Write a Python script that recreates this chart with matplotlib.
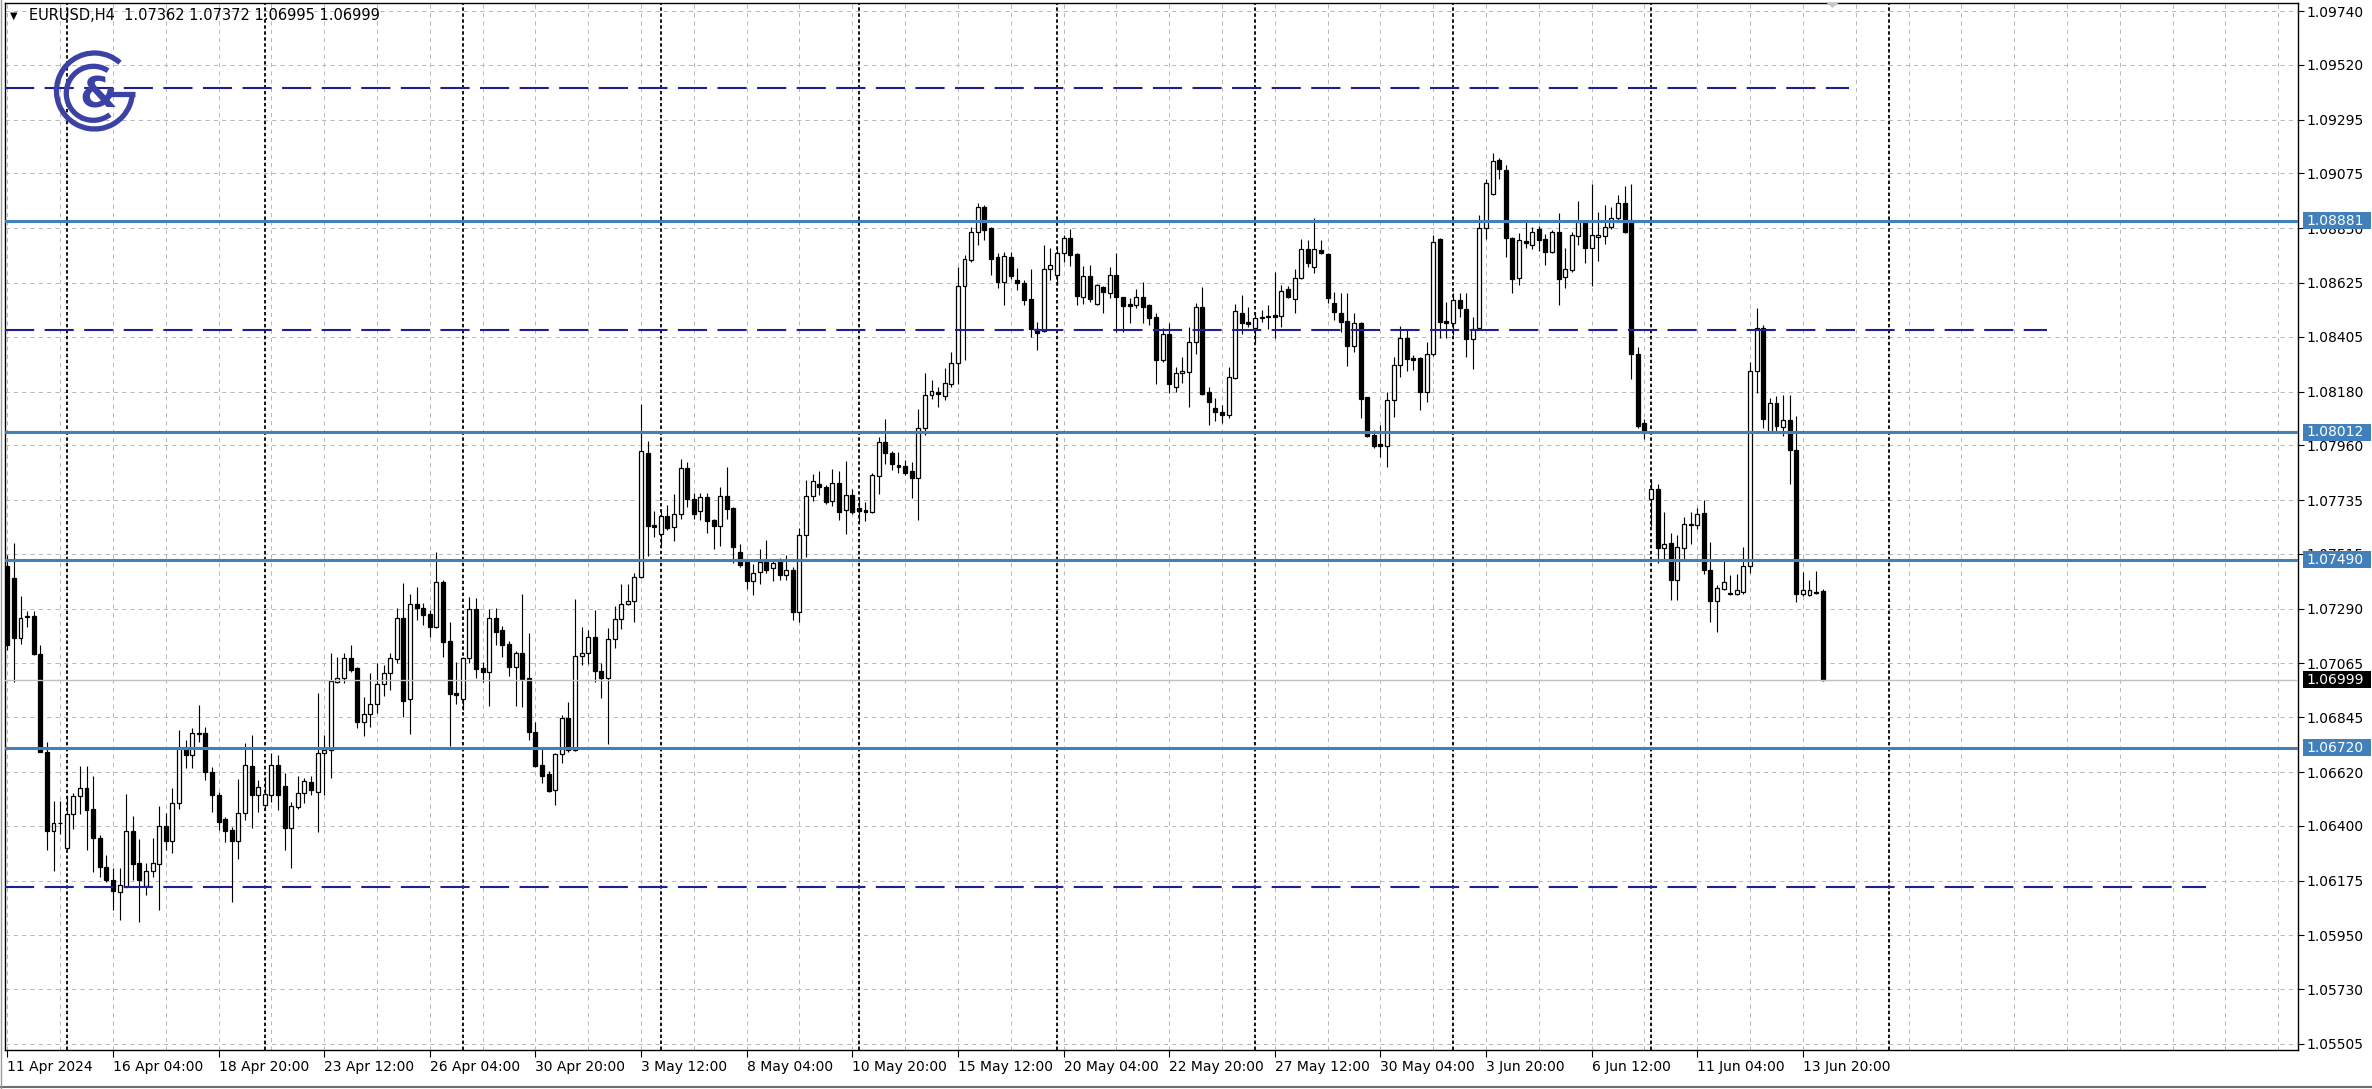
import matplotlib
matplotlib.use("Agg")
import matplotlib.pyplot as plt
from matplotlib.patches import Rectangle, Arc, Polygon
from matplotlib.lines import Line2D
from matplotlib.transforms import blended_transform_factory

plt.rcParams['font.family'] = ['DejaVu Sans']
plt.rcParams['lines.scale_dashes'] = False

# ---------------- data (EURUSD H4, bar index 0 = 11 Apr 2024 12:00) ----------------
opens = [
    1.07465, 1.07414, 1.07168, 1.07257, 1.07260, 1.07104, 1.06703, 1.06378, 1.06413, 1.06307,
    1.06446, 1.06521, 1.06555, 1.06467, 1.06351, 1.06229, 1.06177, 1.06127, 1.06150, 1.06379,
    1.06245, 1.06152, 1.06215, 1.06241, 1.06398, 1.06338, 1.06494, 1.06720, 1.06690, 1.06778,
    1.06778, 1.06621, 1.06525, 1.06426, 1.06382, 1.06337, 1.06454, 1.06645, 1.06525, 1.06484,
    1.06525, 1.06649, 1.06562, 1.06392, 1.06477, 1.06532, 1.06580, 1.06539, 1.06696, 1.06710,
    1.06990, 1.07007, 1.07089, 1.07048, 1.06824, 1.06858, 1.06899, 1.06981, 1.07027, 1.07082,
    1.07252, 1.06918, 1.07307, 1.07294, 1.07266, 1.07216, 1.07400, 1.07158, 1.06942, 1.06918,
    1.07089, 1.07287, 1.07045, 1.07031, 1.07252, 1.07202, 1.07145, 1.07049, 1.07106, 1.07004,
    1.06785, 1.06648, 1.06610, 1.06546, 1.06692, 1.06840, 1.06710, 1.07097, 1.07109, 1.07172,
    1.07034, 1.07007, 1.07164, 1.07246, 1.07307, 1.07321, 1.07421, 1.07929, 1.07632, 1.07596,
    1.07670, 1.07623, 1.07678, 1.07868, 1.07739, 1.07691, 1.07746, 1.07653, 1.07628, 1.07752,
    1.07701, 1.07520, 1.07482, 1.07404, 1.07441, 1.07485, 1.07455, 1.07489, 1.07428, 1.07450,
    1.07277, 1.07591, 1.07751, 1.07800, 1.07789, 1.07732, 1.07806, 1.07694, 1.07755, 1.07701,
    1.07694, 1.07687, 1.07833, 1.07974, 1.07929, 1.07877, 1.07874, 1.07855, 1.07824, 1.08029,
    1.08165, 1.08178, 1.08161, 1.08211, 1.08295, 1.08612, 1.08719, 1.08835, 1.08938, 1.08849,
    1.08730, 1.08630, 1.08730, 1.08637, 1.08626, 1.08559, 1.08435, 1.08429, 1.08681, 1.08657,
    1.08746, 1.08808, 1.08743, 1.08569, 1.08653, 1.08538, 1.08607, 1.08585, 1.08657, 1.08566,
    1.08538, 1.08535, 1.08569, 1.08534, 1.08487, 1.08309, 1.08415, 1.08197, 1.08256, 1.08261,
    1.08384, 1.08525, 1.08179, 1.08111, 1.08097, 1.08083, 1.08234, 1.08503, 1.08466, 1.08442,
    1.08480, 1.08490, 1.08494, 1.08490, 1.08599, 1.08558, 1.08644, 1.08763, 1.08692, 1.08760,
    1.08744, 1.08544, 1.08503, 1.08470, 1.08366, 1.08462, 1.08156, 1.08001, 1.07964, 1.07956,
    1.08145, 1.08289, 1.08398, 1.08316, 1.08316, 1.08179, 1.08334, 1.08804, 1.08470, 1.08462,
    1.08555, 1.08517, 1.08394, 1.08439, 1.08849, 1.08990, 1.09129, 1.09088, 1.08808, 1.08644,
    1.08798, 1.08781, 1.08845, 1.08804, 1.08753, 1.08835, 1.08648, 1.08677, 1.08816, 1.08878,
    1.08767, 1.08814, 1.08816, 1.08854, 1.08892, 1.08954, 1.08885, 1.08332, 1.08052, 1.07739,
    1.07779, 1.07537, 1.07560, 1.07408, 1.07537, 1.07632, 1.07632, 1.07681, 1.07448, 1.07322,
    1.07369, 1.07355, 1.07351, 1.07359, 1.07466, 1.08265, 1.08440, 1.08016, 1.08131, 1.08034,
    1.08063, 1.07940, 1.07348, 1.07345, 1.07359, 1.07362,
]
highs = [
    1.07510, 1.07557, 1.07342, 1.07280, 1.07280, 1.07141, 1.06744, 1.06502, 1.06502, 1.06521,
    1.06535, 1.06644, 1.06644, 1.06603, 1.06360, 1.06279, 1.06225, 1.06225, 1.06529, 1.06439,
    1.06344, 1.06245, 1.06351, 1.06480, 1.06450, 1.06556, 1.06792, 1.06751, 1.06799, 1.06894,
    1.06806, 1.06642, 1.06539, 1.06436, 1.06395, 1.06590, 1.06737, 1.06771, 1.06587, 1.06600,
    1.06696, 1.06689, 1.06617, 1.06498, 1.06603, 1.06594, 1.06603, 1.06943, 1.06771, 1.07109,
    1.07093, 1.07106, 1.07141, 1.07052, 1.06929, 1.07024, 1.07065, 1.07058, 1.07106, 1.07291,
    1.07396, 1.07348, 1.07380, 1.07311, 1.07284, 1.07523, 1.07407, 1.07233, 1.07072, 1.07093,
    1.07336, 1.07332, 1.07072, 1.07287, 1.07291, 1.07219, 1.07158, 1.07117, 1.07350, 1.07191,
    1.06826, 1.06717, 1.06624, 1.06699, 1.06853, 1.06908, 1.07328, 1.07213, 1.07202, 1.07284,
    1.07065, 1.07209, 1.07300, 1.07389, 1.07389, 1.07434, 1.08129, 1.07978, 1.07691, 1.07691,
    1.07715, 1.07760, 1.07902, 1.07892, 1.07762, 1.07762, 1.07762, 1.07656, 1.07787, 1.07869,
    1.07705, 1.07555, 1.07489, 1.07473, 1.07533, 1.07571, 1.07486, 1.07496, 1.07509, 1.07461,
    1.07619, 1.07817, 1.07841, 1.07855, 1.07796, 1.07861, 1.07855, 1.07896, 1.07779, 1.07748,
    1.07728, 1.07844, 1.07994, 1.08066, 1.07937, 1.07933, 1.07899, 1.07892, 1.08107, 1.08254,
    1.08227, 1.08200, 1.08275, 1.08343, 1.08689, 1.08739, 1.08856, 1.08952, 1.08945, 1.08856,
    1.08746, 1.08753, 1.08753, 1.08685, 1.08637, 1.08681, 1.08466, 1.08780, 1.08767, 1.08774,
    1.08822, 1.08845, 1.08746, 1.08694, 1.08698, 1.08620, 1.08613, 1.08692, 1.08749, 1.08569,
    1.08562, 1.08599, 1.08630, 1.08538, 1.08500, 1.08439, 1.08462, 1.08282, 1.08323, 1.08446,
    1.08544, 1.08610, 1.08200, 1.08152, 1.08124, 1.08282, 1.08538, 1.08576, 1.08528, 1.08507,
    1.08514, 1.08535, 1.08671, 1.08617, 1.08613, 1.08681, 1.08804, 1.08801, 1.08890, 1.08801,
    1.08749, 1.08589, 1.08582, 1.08582, 1.08501, 1.08466, 1.08159, 1.08022, 1.08042, 1.08179,
    1.08323, 1.08448, 1.08435, 1.08330, 1.08323, 1.08384, 1.08822, 1.08808, 1.08548, 1.08585,
    1.08585, 1.08582, 1.08487, 1.08904, 1.09050, 1.09159, 1.09136, 1.09108, 1.08812, 1.08828,
    1.08876, 1.08853, 1.08858, 1.08826, 1.08842, 1.08910, 1.08770, 1.08835, 1.08960, 1.08885,
    1.09029, 1.08914, 1.08943, 1.08936, 1.08986, 1.09022, 1.09029, 1.08361, 1.08066, 1.07822,
    1.07800, 1.07685, 1.07599, 1.07592, 1.07664, 1.07685, 1.07704, 1.07736, 1.07563, 1.07388,
    1.07491, 1.07427, 1.07431, 1.07542, 1.08303, 1.08522, 1.08454, 1.08155, 1.08160, 1.08167,
    1.08167, 1.08078, 1.07441, 1.07408, 1.07445, 1.07372,
]
lows = [
    1.07120, 1.06987, 1.07143, 1.07215, 1.07100, 1.06700, 1.06302, 1.06215, 1.06364, 1.06300,
    1.06385, 1.06446, 1.06302, 1.06211, 1.06191, 1.06170, 1.06054, 1.06013, 1.06150, 1.06177,
    1.06006, 1.06115, 1.06191, 1.06054, 1.06300, 1.06289, 1.06470, 1.06635, 1.06635, 1.06744,
    1.06587, 1.06457, 1.06382, 1.06334, 1.06088, 1.06262, 1.06423, 1.06389, 1.06457, 1.06464,
    1.06498, 1.06464, 1.06302, 1.06227, 1.06467, 1.06491, 1.06525, 1.06375, 1.06525, 1.06594,
    1.06986, 1.06983, 1.07031, 1.06799, 1.06768, 1.06806, 1.06860, 1.06932, 1.06956, 1.07065,
    1.06844, 1.06776, 1.07243, 1.07223, 1.07172, 1.07209, 1.07093, 1.06726, 1.06899, 1.06874,
    1.07065, 1.07004, 1.06990, 1.06890, 1.07141, 1.07093, 1.07014, 1.06890, 1.06888, 1.06751,
    1.06640, 1.06573, 1.06539, 1.06484, 1.06658, 1.06703, 1.06706, 1.07059, 1.07062, 1.06990,
    1.06922, 1.06734, 1.07127, 1.07205, 1.07305, 1.07236, 1.07417, 1.07505, 1.07585, 1.07551,
    1.07612, 1.07568, 1.07656, 1.07708, 1.07656, 1.07653, 1.07601, 1.07533, 1.07547, 1.07656,
    1.07475, 1.07459, 1.07369, 1.07345, 1.07391, 1.07437, 1.07404, 1.07407, 1.07407, 1.07245,
    1.07236, 1.07502, 1.07732, 1.07755, 1.07718, 1.07710, 1.07655, 1.07595, 1.07677, 1.07642,
    1.07650, 1.07680, 1.07759, 1.07882, 1.07858, 1.07844, 1.07837, 1.07742, 1.07653, 1.08001,
    1.08148, 1.08115, 1.08145, 1.08200, 1.08210, 1.08309, 1.08712, 1.08781, 1.08801, 1.08657,
    1.08603, 1.08535, 1.08640, 1.08596, 1.08535, 1.08405, 1.08350, 1.08425, 1.08637, 1.08616,
    1.08712, 1.08694, 1.08535, 1.08538, 1.08548, 1.08535, 1.08503, 1.08562, 1.08425, 1.08425,
    1.08459, 1.08521, 1.08459, 1.08452, 1.08210, 1.08302, 1.08172, 1.08179, 1.08213, 1.08118,
    1.08334, 1.08165, 1.08042, 1.08060, 1.08049, 1.08070, 1.08230, 1.08416, 1.08446, 1.08377,
    1.08466, 1.08435, 1.08398, 1.08446, 1.08562, 1.08503, 1.08640, 1.08692, 1.08664, 1.08743,
    1.08544, 1.08473, 1.08425, 1.08284, 1.08343, 1.08070, 1.07992, 1.07947, 1.07913, 1.07871,
    1.08077, 1.08238, 1.08265, 1.08268, 1.08104, 1.08138, 1.08325, 1.08398, 1.08398, 1.08412,
    1.08487, 1.08323, 1.08271, 1.08435, 1.08804, 1.08986, 1.09050, 1.08733, 1.08582, 1.08617,
    1.08770, 1.08763, 1.08757, 1.08699, 1.08746, 1.08534, 1.08605, 1.08670, 1.08782, 1.08706,
    1.08612, 1.08713, 1.08785, 1.08845, 1.08874, 1.08828, 1.08231, 1.08030, 1.07987, 1.07628,
    1.07477, 1.07491, 1.07326, 1.07326, 1.07491, 1.07556, 1.07618, 1.07431, 1.07233, 1.07193,
    1.07365, 1.07345, 1.07345, 1.07351, 1.07434, 1.08173, 1.08030, 1.08012, 1.08012, 1.07997,
    1.07800, 1.07319, 1.07341, 1.07341, 1.07348, 1.06995,
]
closes = [
    1.07140, 1.07168, 1.07253, 1.07260, 1.07104, 1.06703, 1.06378, 1.06413, 1.06410, 1.06446,
    1.06521, 1.06553, 1.06464, 1.06351, 1.06229, 1.06177, 1.06133, 1.06156, 1.06379, 1.06241,
    1.06177, 1.06215, 1.06245, 1.06398, 1.06338, 1.06494, 1.06720, 1.06690, 1.06778, 1.06775,
    1.06621, 1.06525, 1.06416, 1.06378, 1.06337, 1.06454, 1.06649, 1.06525, 1.06557, 1.06528,
    1.06649, 1.06525, 1.06392, 1.06480, 1.06535, 1.06583, 1.06546, 1.06696, 1.06710, 1.06993,
    1.07007, 1.07089, 1.07038, 1.06824, 1.06858, 1.06899, 1.06981, 1.07027, 1.07086, 1.07252,
    1.06912, 1.07307, 1.07291, 1.07264, 1.07216, 1.07400, 1.07154, 1.06940, 1.06935, 1.07089,
    1.07287, 1.07041, 1.07030, 1.07252, 1.07195, 1.07141, 1.07049, 1.07106, 1.07000, 1.06782,
    1.06644, 1.06603, 1.06542, 1.06692, 1.06840, 1.06710, 1.07097, 1.07109, 1.07172, 1.07034,
    1.07007, 1.07164, 1.07246, 1.07307, 1.07321, 1.07421, 1.07936, 1.07628, 1.07624, 1.07671,
    1.07622, 1.07678, 1.07868, 1.07739, 1.07678, 1.07746, 1.07650, 1.07628, 1.07752, 1.07697,
    1.07541, 1.07469, 1.07404, 1.07434, 1.07482, 1.07448, 1.07475, 1.07428, 1.07450, 1.07277,
    1.07591, 1.07751, 1.07814, 1.07789, 1.07728, 1.07806, 1.07687, 1.07755, 1.07687, 1.07691,
    1.07687, 1.07837, 1.07974, 1.07926, 1.07882, 1.07869, 1.07844, 1.07824, 1.08029, 1.08165,
    1.08183, 1.08170, 1.08213, 1.08295, 1.08612, 1.08722, 1.08835, 1.08938, 1.08842, 1.08723,
    1.08630, 1.08735, 1.08653, 1.08626, 1.08555, 1.08435, 1.08421, 1.08681, 1.08698, 1.08749,
    1.08808, 1.08739, 1.08571, 1.08653, 1.08558, 1.08616, 1.08589, 1.08657, 1.08569, 1.08530,
    1.08530, 1.08569, 1.08528, 1.08480, 1.08309, 1.08415, 1.08210, 1.08254, 1.08263, 1.08384,
    1.08525, 1.08169, 1.08138, 1.08097, 1.08083, 1.08241, 1.08511, 1.08462, 1.08456, 1.08483,
    1.08487, 1.08484, 1.08487, 1.08593, 1.08569, 1.08647, 1.08763, 1.08705, 1.08763, 1.08746,
    1.08562, 1.08507, 1.08466, 1.08366, 1.08462, 1.08148, 1.07997, 1.07956, 1.07956, 1.08145,
    1.08289, 1.08398, 1.08312, 1.08309, 1.08179, 1.08334, 1.08794, 1.08466, 1.08462, 1.08555,
    1.08521, 1.08394, 1.08435, 1.08849, 1.09036, 1.09126, 1.09091, 1.08808, 1.08640, 1.08801,
    1.08787, 1.08835, 1.08801, 1.08753, 1.08835, 1.08640, 1.08684, 1.08821, 1.08874, 1.08767,
    1.08821, 1.08821, 1.08854, 1.08892, 1.08954, 1.08835, 1.08332, 1.08037, 1.08012, 1.07779,
    1.07537, 1.07556, 1.07408, 1.07542, 1.07635, 1.07638, 1.07678, 1.07448, 1.07322, 1.07374,
    1.07398, 1.07348, 1.07365, 1.07466, 1.08265, 1.08440, 1.08066, 1.08131, 1.08037, 1.08063,
    1.07940, 1.07348, 1.07365, 1.07365, 1.07355, 1.06999,
]

price_ticks = [1.09740, 1.09520, 1.09295, 1.09075, 1.08850, 1.08625, 1.08405, 1.08180,
               1.07960, 1.07735, 1.07515, 1.07290, 1.07065, 1.06845, 1.06620, 1.06400,
               1.06175, 1.05950, 1.05730, 1.05505]
price_tick_labels = ["%.5f" % p for p in price_ticks]

time_tick_bars = [0, 16, 32, 48, 64, 80, 96, 112, 128, 144, 160, 176, 192, 208, 224, 240, 256, 272]
time_tick_labels = ["11 Apr 2024", "16 Apr 04:00", "18 Apr 20:00", "23 Apr 12:00", "26 Apr 04:00",
                    "30 Apr 20:00", "3 May 12:00", "8 May 04:00", "10 May 20:00", "15 May 12:00",
                    "20 May 04:00", "22 May 20:00", "27 May 12:00", "30 May 04:00", "3 Jun 20:00",
                    "6 Jun 12:00", "11 Jun 04:00", "13 Jun 20:00"]

week_start_bars = [9, 39, 69, 99, 129, 159, 189, 219, 249]
vertical_line_bars = [285]
level_prices = [1.08881, 1.08012, 1.07490, 1.06720]
bid_price = 1.06999
dashed_prices = [1.09424, 1.08432, 1.06150]
dashed_end_bars = [279, 309, 333]
chart_shift_bar = 276.5

header_text = "EURUSD,H4  1.07362 1.07372 1.06995 1.06999"

# ---------------- figure ----------------
W, H = 2372, 1089
fig = plt.figure(figsize=(W / 100, H / 100), dpi=100)
fig.patch.set_facecolor("white")

left_px, right_px, top_px, bottom_px = 4.5, 2298, 3, 1050
ax = fig.add_axes([left_px / W, 1 - bottom_px / H, (right_px - left_px) / W, (bottom_px - top_px) / H])
ax.set_facecolor("white")
ax.set_xlim(-0.424, 347.0)
ax.set_ylim(1.054803, 1.097728)

PX = 0.72  # one pixel in points
GRID = "#b9b9b9"
BLUE = "#4180bb"
NAVY = "#1e1e96"

# grid
for p in price_ticks:
    ax.axhline(p, color=GRID, lw=PX, ls=(0, (3.0, 3.0)), zorder=0.5)
for i in range(0, 348, 8):
    ax.axvline(i, color=GRID, lw=PX, ls=(0, (3.0, 3.0)), zorder=0.5)

# period separators and vertical line object
for i in week_start_bars + vertical_line_bars:
    ax.axvline(i, color="black", lw=1.3, ls=(0, (2.5, 1.8)), zorder=0.8)

# candles
n = len(opens)
xs = list(range(n))
ax.vlines(xs, lows, highs, color="black", lw=1.0 * PX + 0.1, zorder=2)
bw = 0.6
for i in xs:
    o, c = opens[i], closes[i]
    bottom = min(o, c)
    h = abs(c - o)
    if h < 0.000015:
        h = 0.000015
        bottom = (o + c) / 2 - h / 2
    fc = "white" if c >= o else "black"
    ax.add_patch(Rectangle((i - bw / 2, bottom), bw, h, facecolor=fc, edgecolor="black",
                           lw=0.9, zorder=3))

# horizontal levels
for p in level_prices:
    ax.axhline(p, color=BLUE, lw=2.2, zorder=4)
ax.axhline(bid_price, color="#c0c0c0", lw=1.0, zorder=3.5)
for p, e in zip(dashed_prices, dashed_end_bars):
    ax.plot([-0.424, e], [p, p], color=NAVY, lw=1.5, ls=(0, (21, 7.5)), zorder=4,
            solid_capstyle="butt", dash_capstyle="butt")

# chart shift marker (small grey triangle at the top border)
ytop = ax.get_ylim()[1]
ppx = (ax.get_ylim()[1] - ax.get_ylim()[0]) / (bottom_px - top_px)
ax.add_patch(Polygon([[chart_shift_bar - 0.9, ytop], [chart_shift_bar + 0.9, ytop],
                      [chart_shift_bar, ytop - 5 * ppx]], closed=True, facecolor="#c8c8c8",
                     edgecolor="none", zorder=5, clip_on=False))

# axes styling
for s in ax.spines.values():
    s.set_color("black")
    s.set_linewidth(1.0)
ax.yaxis.tick_right()
ax.set_yticks(price_ticks)
ax.set_yticklabels(price_tick_labels)
ax.set_xticks(time_tick_bars)
ax.set_xticklabels(time_tick_labels)
for lbl in ax.get_xticklabels():
    lbl.set_horizontalalignment("left")
ax.tick_params(axis="y", direction="out", length=4, pad=2, labelsize=10, width=0.8)
ax.tick_params(axis="x", direction="out", length=5, pad=2, labelsize=10, width=0.8)

# right-side price labels in boxes
trans = blended_transform_factory(ax.transAxes, ax.transData)
ax_w_px = right_px - left_px
box_h = 17 * ppx
box_x = 1 + 5 / ax_w_px
box_w = 68 / ax_w_px
for p, col in [(p, BLUE) for p in level_prices] + [(bid_price, "black")]:
    ax.add_patch(Rectangle((box_x, p - box_h / 2), box_w, box_h, transform=trans,
                           facecolor=col, edgecolor="none", clip_on=False, zorder=10))
    ax.text(box_x + 3 / ax_w_px, p, "%.5f" % p, transform=trans, color="white", fontsize=10,
            va="center", ha="left", clip_on=False, zorder=11)

# header
fig.text(10 / W, 1 - 16 / H, "\u25BC", fontsize=7, va="center", ha="left", color="black")
fig.text(29 / W, 1 - 16 / H, header_text, fontsize=10.5, va="center", ha="left", color="black")

# logo
LOGO = "#3c41a5"
lax = fig.add_axes([45 / W, 1 - 140 / H, 100 / W, 100 / H])
lax.set_xlim(45, 145)
lax.set_ylim(H - 140, H - 40)
lax.axis("off")
lax.patch.set_visible(False)
cx, cy = 94.5, H - 91
lax.add_patch(Arc((cx, cy), 76, 76, theta1=48, theta2=357, lw=3.8, color=LOGO))
lax.plot([108, 134.5], [H - 93.5, H - 93.5], color=LOGO, lw=3.8, solid_capstyle="butt")
lax.add_patch(Arc((93.3, H - 93.3), 54, 54, theta1=57, theta2=308, lw=3.8, color=LOGO))
lax.text(98.5, H - 95, "&", fontsize=31, color=LOGO, ha="center", va="center", fontweight="bold")

# window borders
fig.add_artist(Line2D([0, 1], [2 / H, 2 / H], transform=fig.transFigure, color="#6e6e6e", lw=1.5))
fig.add_artist(Line2D([1 / W, 1 / W], [0, 1], transform=fig.transFigure, color="#9a9a9a", lw=1.0))

fig.savefig("out.png", dpi=100, facecolor="white")
